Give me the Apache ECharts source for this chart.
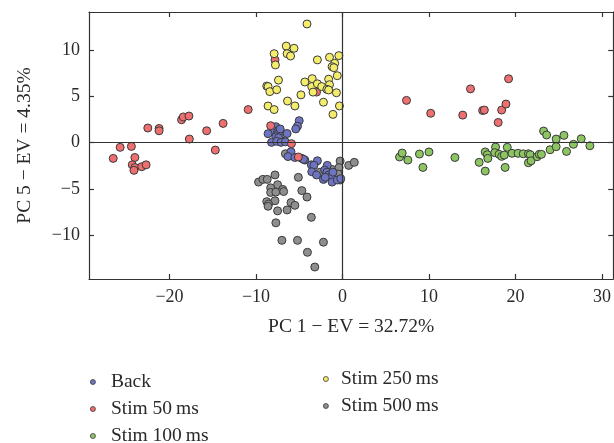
<!DOCTYPE html>
<html>
<head>
<meta charset="utf-8">
<script src="https://cdn.jsdelivr.net/npm/echarts@6/dist/echarts.min.js"></script>
<style>
  html, body { margin: 0; padding: 0; background: #ffffff; }
  #chart { width: 614px; height: 443px; }
</style>
</head>
<body>
<div id="chart"></div>
<script>
// PCA scores: [PC 1, PC 5] for each recording condition
const backPts = [
  [-5.0, 2.4], [-5.2, 1.8], [-5.4, 1.5], [-7.7, 1.74], [-7.9, 1.3], [-7.5, 1.16],
  [-7.4, 1.0], [-8.6, 0.98], [-6.4, 1.0], [-7.7, 0.65], [-7.4, 0.54], [-8.2, 0.04],
  [-7.6, 0.15], [-7.1, 0.04], [-6.6, 0.1], [-7.2, 1.5],
  [-5.95, -0.98], [-6.3, -1.5], [-5.5, -1.6], [-4.5, -1.8], [-2.9, -1.96], [-3.6, -2.4],
  [-3.3, -2.45], [-1.76, -2.46], [-3.55, -3.15], [-3.0, -3.5], [-2.06, -2.97], [-1.8, -3.2],
  [-1.57, -3.5], [-1.3, -3.7], [-2.2, -3.98], [-2.0, -3.76], [-1.2, -4.27], [-0.6, -4.05],
  [-0.2, -3.9], [-1.1, -3.2]
];
const stim50Pts = [
  [-26.5, -1.7], [-25.7, -0.5], [-24.4, -0.4], [-24.0, -1.6], [-24.3, -2.4], [-24.0, -2.7],
  [-24.1, -3.0], [-23.2, -2.6], [-22.7, -2.4], [-22.5, 1.6], [-21.2, 1.55], [-21.2, 1.3],
  [-18.6, 2.5], [-18.4, 2.8], [-17.75, 2.9], [-17.7, 0.4], [-15.7, 1.3], [-13.8, 2.1],
  [-14.7, -0.8], [-10.9, 3.6], [-7.8, 9.0], [-8.3, 1.85], [-5.9, -0.1], [-3.0, 5.5],
  [-5.1, -1.55], [7.4, 4.6], [10.2, 3.2], [13.9, 3.0], [14.8, 5.85], [16.2, 3.5],
  [16.4, 3.55], [18.4, 3.55], [18.9, 4.2], [19.2, 6.95], [18.0, 2.2]
];
const stim100Pts = [
  [6.6, -1.55], [6.9, -1.12], [7.56, -1.88], [8.9, -1.23], [9.3, -2.68], [10.0, -1.0],
  [13.0, -1.6], [15.8, -2.13], [16.5, -3.08], [16.5, -1.0], [16.75, -1.3], [16.8, -1.7],
  [17.7, -0.47], [17.6, -1.08], [18.1, -1.26], [18.4, -1.48], [18.7, -1.34], [19.05, -0.5],
  [18.8, -2.68], [19.6, -1.15], [20.3, -1.15], [20.9, -1.2], [21.5, -1.2], [21.7, -1.3],
  [21.5, -2.17], [21.8, -1.96], [22.5, -1.52], [22.75, -1.26], [23.0, -1.26], [23.25, 1.27],
  [23.6, 0.84], [24.0, -0.76], [24.7, 0.4], [24.7, -0.43], [25.6, 0.8], [25.9, -0.94],
  [26.7, -0.17], [27.6, 0.43], [28.6, -0.33]
];
const stim250Pts = [
  [-4.1, 12.9], [-6.5, 10.5], [-5.6, 10.26], [-7.9, 9.67], [-6.4, 9.67], [-6.0, 9.42],
  [-7.75, 8.45], [-2.9, 9.0], [-1.5, 9.28], [-0.42, 9.46], [-0.9, 8.63], [-1.2, 8.26],
  [-1.0, 8.15], [-0.6, 7.28], [-7.4, 6.8], [-4.35, 6.6], [-3.5, 6.96], [-8.75, 6.16],
  [-8.6, 6.1], [-8.4, 5.55], [-7.6, 5.76], [-3.55, 6.1], [-2.9, 6.4], [-2.4, 6.1],
  [-3.4, 5.5], [-1.6, 6.9], [-1.5, 6.3], [-1.8, 5.8], [-1.6, 5.73], [-0.7, 5.43],
  [-4.8, 5.2], [-6.35, 4.53], [-8.6, 3.99], [-7.9, 3.6], [-5.5, 4.0], [-2.2, 4.4],
  [-0.35, 4.0], [-1.1, 3.08]
];
const stim500Pts = [
  [-6.9, 0.98], [-6.6, -1.2], [-4.7, -1.7], [-4.35, -1.88], [-0.27, -1.99], [0.72, -2.46],
  [1.37, -2.13], [-2.6, -3.2], [-1.2, -2.9], [-0.4, -2.7], [-0.5, -3.4], [-0.27, -4.05],
  [-7.8, -3.5], [-9.7, -4.27], [-9.2, -3.98], [-8.7, -3.98], [-5.1, -3.76], [-7.5, -4.56],
  [-8.3, -4.9], [-8.3, -5.4], [-7.7, -5.36], [-6.9, -5.07], [-6.8, -5.3], [-4.7, -5.2],
  [-4.1, -5.9], [-7.8, -6.3], [-8.75, -6.4], [-8.55, -6.66], [-8.6, -6.9], [-5.95, -6.5],
  [-5.5, -6.8], [-7.5, -7.4], [-6.4, -7.3], [-3.6, -8.1], [-7.7, -8.7], [-7.0, -10.6],
  [-5.2, -10.6], [-2.2, -10.8], [-4.05, -11.9], [-3.2, -13.5]
];

const seriesNames = ['Back', 'Stim 50\u2009ms', 'Stim 100\u2009ms', 'Stim 250\u2009ms', 'Stim 500\u2009ms'];
const seriesPoints = [backPts, stim50Pts, stim100Pts, stim250Pts, stim500Pts];

const xTicks = [-20, -10, 0, 10, 20, 30];
const yTicks = [-10, -5, 0, 5, 10];
const xRange = [-29.3, 31.3];
const yRange = [-14.8, 14.2];
const xTitle = 'PC 1 \u2212 EV = 32.72%';
const yTitle = 'PC 5 \u2212 EV = 4.35%';

// look
const fillColors = ['#6e74c4', '#ee6f6f', '#8cc562', '#f3ed6b', '#8e8e8e'];
// stacking order of the groups (first drawn at the bottom)
const drawOrder = [4, 0, 1, 2, 3];
const ink = '#2a2a2a';
const serif = '"Liberation Serif", "DejaVu Serif", serif';
const axisLineStyle = { color: '#333333', width: 1.2 };
const minus = v => String(v).replace('-', '\u2212');

const chart = echarts.init(document.getElementById('chart'), null, { renderer: 'canvas' });

function frameAxis(position, range, ticks, withLabels) {
  return {
    type: 'value',
    position: position,
    min: range[0],
    max: range[1],
    axisLine: { show: true, onZero: false, lineStyle: axisLineStyle },
    axisTick: { show: true, inside: true, length: 5, customValues: ticks, lineStyle: axisLineStyle },
    axisLabel: withLabels
      ? { show: true, customValues: ticks, formatter: minus, fontFamily: serif, fontSize: 18, color: ink, margin: 9 }
      : { show: false },
    splitLine: { show: false }
  };
}

const xBottom = Object.assign(frameAxis('bottom', xRange, xTicks, true), {
  name: xTitle, nameLocation: 'middle', nameGap: 38,
  nameTextStyle: { fontFamily: serif, fontSize: 19.5, color: ink }
});
const yLeft = Object.assign(frameAxis('left', yRange, yTicks, true), {
  name: yTitle, nameLocation: 'middle', nameGap: 54,
  nameTextStyle: { fontFamily: serif, fontSize: 19.5, color: ink }
});

const series = drawOrder.map((i, k) => {
  const s = {
    name: seriesNames[i],
    type: 'scatter',
    data: seriesPoints[i],
    symbol: 'circle',
    symbolSize: 8,
    itemStyle: { color: fillColors[i], borderColor: '#3a3a3a', borderWidth: 1, opacity: 1 },
    emphasis: { disabled: true }
  };
  if (k === 0) {
    // zero lines through the origin
    s.markLine = {
      silent: true,
      symbol: ['none', 'none'],
      label: { show: false },
      lineStyle: { color: '#333333', width: 1.2, type: 'solid' },
      data: [{ xAxis: 0 }, { yAxis: 0 }],
      animation: false
    };
  }
  return s;
});

const legendText = { fontFamily: serif, fontSize: 19.5, color: ink, lineHeight: 19 };
const legendBase = {
  orient: 'vertical', padding: 0, height: 100, icon: 'circle', itemHeight: 5, itemGap: 7,
  itemStyle: { borderWidth: 0.8 }, textStyle: legendText, selectedMode: false
};

chart.setOption({
  animation: false,
  backgroundColor: '#ffffff',
  grid: { left: 89, top: 12, width: 529, height: 267, containLabel: false },
  xAxis: [xBottom, frameAxis('top', xRange, xTicks, false)],
  yAxis: [yLeft, frameAxis('right', yRange, yTicks, false)],
  legend: [
    Object.assign({}, legendBase, { data: seriesNames.slice(0, 3), left: 90, top: 372, itemWidth: 26 }),
    Object.assign({}, legendBase, { data: seriesNames.slice(3), left: 323, top: 369, itemWidth: 20 })
  ],
  series: series
});
</script>
</body>
</html>
